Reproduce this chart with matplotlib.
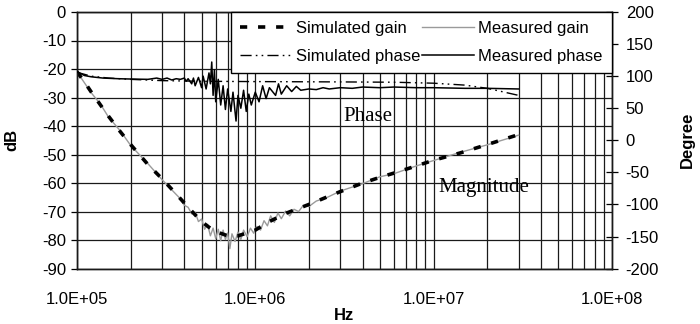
"""Simulated vs measured gain / phase of the filter (Bode plot, dB + degree)."""

import matplotlib

matplotlib.use("Agg")
import matplotlib.pyplot as plt  # noqa: E402
import matplotlib.ticker as mticker  # noqa: E402

plt.rcParams["font.family"] = ["Liberation Sans", "DejaVu Sans"]
plt.rcParams["axes.unicode_minus"] = False

# simulated gain, dB
sim_gain_hz = [1e5, 1.1e5, 1.2e5, 1.35e5, 1.5e5, 1.75e5, 2e5, 2.5e5, 3e5,
               3.5e5, 4e5, 4.5e5, 5e5, 5.5e5, 6e5, 7e5, 8e5, 9e5, 1e6,
               1.2e6, 1.5e6, 2e6, 2.5e6, 3e6, 4e6, 5e6, 6e6, 8e6, 1e7,
               1.4e7, 2e7, 3e7]
sim_gain_db = [-21.0, -24.5, -28.0, -32.5, -36.5, -42.0, -46.5, -53.5, -58.5,
               -63.0, -67.0, -70.5, -73.5, -75.5, -77.0, -78.5, -78.5, -77.5,
               -76.5, -73.5, -70.5, -67.5, -65.0, -63.0, -60.0, -58.0, -56.5,
               -54.0, -52.0, -49.5, -46.5, -43.0]

# measured gain, dB
meas_gain_hz = [1e5, 1.1e5, 1.2e5, 1.35e5, 1.5e5, 1.75e5, 2e5, 2.5e5, 3e5,
                3.5e5, 3.8e5, 4e5, 4.2e5, 4.4e5, 4.6e5, 4.8e5, 5e5, 5.2e5,
                5.4e5, 5.6e5, 5.8e5, 6e5, 6.2e5, 6.4e5, 6.6e5, 6.8e5, 7e5,
                7.2e5, 7.4e5, 7.7e5, 8e5, 8.3e5, 8.6e5, 9e5, 9.4e5, 9.8e5,
                1.02e6, 1.07e6, 1.12e6, 1.17e6, 1.22e6, 1.28e6, 1.34e6,
                1.4e6, 1.48e6, 1.56e6, 1.65e6, 1.75e6, 1.85e6, 2e6, 2.2e6,
                2.5e6, 3e6, 4e6, 5e6, 6e6, 8e6, 1e7, 1.4e7, 2e7, 3e7]
meas_gain_db = [-21.0, -24.8, -28.3, -32.2, -36.8, -41.7, -46.8, -53.2, -58.8,
                -63.2, -65.5, -67.8, -68.5, -70.8, -70.2, -73.5, -72.6, -76.2,
                -74.5, -78.5, -75.8, -79.5, -76.2, -80.2, -76.5, -79.8, -77.5,
                -83.0, -77.8, -80.5, -77.2, -79.8, -76.5, -78.8, -75.8, -77.6,
                -75.2, -76.5, -73.2, -75.0, -71.5, -73.8, -70.5,
                -72.5, -69.8, -71.5, -69.2, -70.0, -68.0, -68.2, -66.3,
                -65.2, -62.8, -60.2, -57.8, -56.7, -54.0, -52.1, -49.3, -46.6,
                -43.2]

# simulated phase, degree
sim_phase_hz = [1e5, 1.2e5, 1.5e5, 2e5, 3e5, 5e5, 1e6, 3e6, 6e6, 1e7,
                1.5e7, 2e7, 2.5e7, 3e7]
sim_phase_deg = [106, 100, 97, 95, 93, 92, 91.5, 91, 90.5, 89,
                 86, 81, 75, 70]

# measured phase, degree
meas_phase_hz = [1e5, 1.1e5, 1.2e5, 1.4e5, 1.7e5, 2e5, 2.5e5, 2.8e5, 3e5,
                 3.2e5, 3.4e5, 3.6e5, 3.8e5, 4e5, 4.1e5, 4.2e5, 4.4e5, 4.5e5,
                 4.6e5, 4.8e5, 5e5, 5.1e5, 5.3e5, 5.5e5, 5.6e5, 5.7e5, 5.8e5,
                 5.9e5, 6e5, 6.2e5, 6.4e5, 6.6e5, 6.8e5, 7e5, 7.3e5, 7.5e5,
                 7.8e5, 8e5, 8.3e5, 8.6e5, 8.9e5, 9.2e5, 9.5e5, 1e6, 1.05e6,
                 1.1e6, 1.15e6, 1.2e6, 1.3e6, 1.35e6, 1.4e6, 1.5e6, 1.6e6,
                 1.7e6, 1.8e6, 2e6, 2.2e6, 2.4e6, 2.6e6, 3e6, 3.5e6, 4e6,
                 5e6, 6e6, 8e6, 1e7, 1.5e7, 2e7, 3e7]
meas_phase_deg = [107, 101, 99, 97, 96, 95.5, 95, 97, 95,
                  97, 94, 96, 95, 97, 92, 96, 88, 97,
                  85, 98, 82, 100, 80, 105, 88, 122, 70,
                  110, 60, 95, 55, 85, 48, 80, 45, 75,
                  30, 70, 50, 78, 45, 72, 55, 75, 60,
                  85, 65, 82, 70, 88, 72, 85, 76,
                  84, 78, 80, 79, 82, 80, 82, 81, 83,
                  82, 83, 82, 82, 81, 81, 80]

db_ticks = list(range(-90, 1, 10))
deg_ticks = list(range(-200, 201, 50))
hz_ticks = [1e5, 1e6, 1e7, 1e8]

fig = plt.figure(figsize=(7.0, 3.24), dpi=100)
ax = fig.add_axes([0.110, 0.171, 0.764, 0.792])
ax2 = ax.twinx()

ax.plot(meas_gain_hz, meas_gain_db, color="#9a9a9a", lw=1.0, zorder=3)
ax.plot(sim_gain_hz, sim_gain_db, color="black", lw=2.6,
        ls=(0, (2.0, 3.0)), zorder=4)
ax2.plot(sim_phase_hz, sim_phase_deg, color="black", lw=1.0,
         ls=(0, (8, 3, 1.2, 3, 1.2, 3)), zorder=3)
ax2.plot(meas_phase_hz, meas_phase_deg, color="black", lw=1.1, zorder=4)

ax.set_xscale("log")
ax.set_xlim(1e5, 1e8)
ax.set_ylim(-90, 0)
ax2.set_ylim(-200, 200)
ax.set_yticks(db_ticks)
ax2.set_yticks(deg_ticks)
ax.set_xticks(hz_ticks)
ax.xaxis.set_major_formatter(mticker.FuncFormatter(lambda v, _: f"{v:.1E}"))
ax.xaxis.set_minor_locator(mticker.LogLocator(base=10, subs=range(2, 10)))
ax.xaxis.set_minor_formatter(mticker.NullFormatter())

ax.grid(True, which="both", axis="x", color="#1a1a1a", lw=0.9)
ax.grid(True, which="major", axis="y", color="#1a1a1a", lw=0.9)
ax.set_axisbelow(True)

ax.tick_params(axis="x", which="both", length=0, pad=17, labelsize=12)
ax.tick_params(axis="y", direction="out", length=4, width=0.9, pad=4,
               labelsize=12)
ax2.tick_params(axis="y", direction="inout", length=8, width=0.9, pad=6,
                labelsize=12)
for a in (ax, ax2):
    for sp in a.spines.values():
        sp.set_color("#1a1a1a")
        sp.set_linewidth(1.0)

ax.set_ylabel("dB", fontsize=12, fontweight="bold")
ax.yaxis.set_label_coords(-0.108, 0.5)
ax2.set_ylabel("Degree", fontsize=12, fontweight="bold")
ax2.yaxis.set_label_coords(1.127, 0.5)
ax.set_xlabel("Hz", fontsize=12, fontweight="bold")
ax.xaxis.set_label_coords(0.5, -0.155)

ax.text(4.26e6, -36.8, "Phase", fontsize=15, family="Liberation Serif",
        ha="center", va="center", zorder=5)
ax.text(1.07e7, -61.5, "Magnitude", fontsize=15, family="Liberation Serif",
        ha="left", va="center", zorder=5)

handles = [
    plt.Line2D([], [], color="black", lw=2.6, ls=(0, (2.0, 3.0))),
    plt.Line2D([], [], color="black", lw=1.0, ls=(0, (8, 3, 1.2, 3, 1.2, 3))),
    plt.Line2D([], [], color="#9a9a9a", lw=1.0),
    plt.Line2D([], [], color="black", lw=1.1),
]
labels = ["Simulated gain", "Simulated phase", "Measured gain",
          "Measured phase"]
leg = ax2.legend(handles, labels, ncol=2, loc="upper right",
                 bbox_to_anchor=(1.0, 1.0), borderaxespad=0.0,
                 fancybox=False, framealpha=1.0, edgecolor="black",
                 fontsize=12, handlelength=3.1, handletextpad=0.25,
                 columnspacing=0.15, labelspacing=0.75, borderpad=0.55)
leg.get_frame().set_linewidth(1.0)
leg.set_zorder(10)

fig.savefig("out.png", dpi=100, facecolor="white")
